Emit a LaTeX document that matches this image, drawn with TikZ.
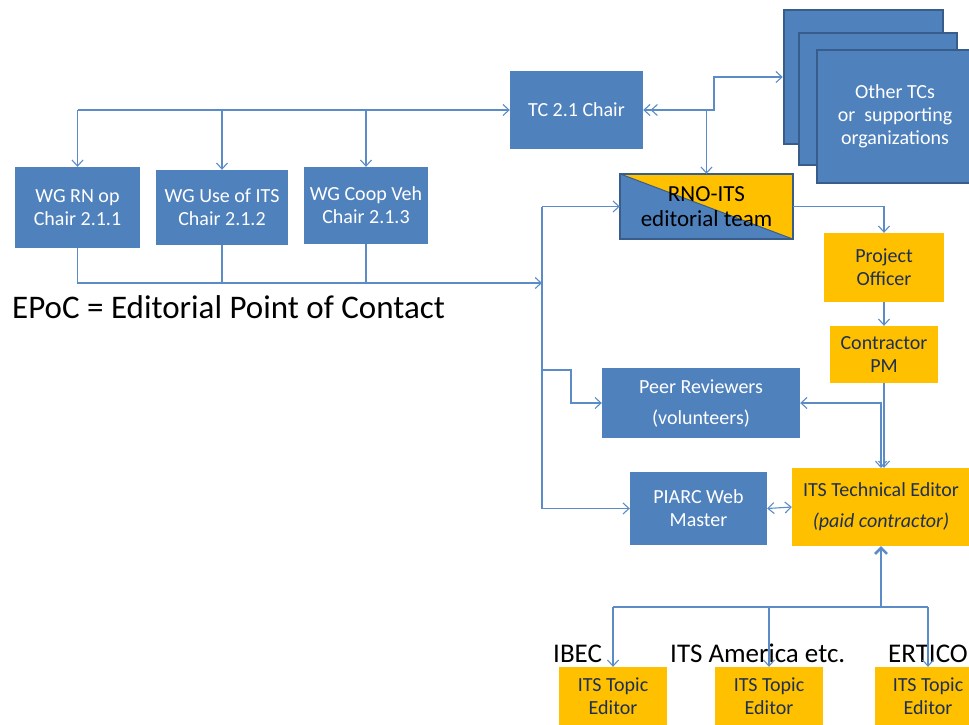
\documentclass[tikz,border=0pt]{standalone}
\usepackage{fontspec}
\setmainfont{Carlito}
\usetikzlibrary{arrows.meta}
\definecolor{bfill}{HTML}{4F81BD}
\definecolor{bdark}{HTML}{385D8A}
\definecolor{yfill}{HTML}{FFC000}
\definecolor{ytext}{HTML}{1F3050}
\definecolor{lcol}{HTML}{5B8CC8}
\tikzset{
  box/.style={inner sep=0pt, align=center, font=\fontsize{20}{23}\selectfont},
  bluebox/.style={box, fill=bfill, text=white},
  yelbox/.style={box, fill=yfill, text=ytext},
  stackbox/.style={box, fill=bfill, draw=bdark, line width=2.5pt, text=white},
  conn/.style={draw=lcol, line width=1.1pt, -{Straight Barb[length=6pt,width=11pt]}},
  conn2/.style={draw=lcol, line width=1.1pt, {Straight Barb[length=6pt,width=11pt]}-{Straight Barb[length=6pt,width=11pt]}},
  line/.style={draw=lcol, line width=1.1pt},
  lbl/.style={inner sep=0pt, anchor=base west, font=\fontsize{27}{30}\selectfont, text=black},
}
\begin{document}
\begin{tikzpicture}[x=1pt,y=-1pt]
\clip (0,0) rectangle (969,724);
\fill[white] (0,0) rectangle (969,724);

% stacked boxes
\node[stackbox, minimum width=159pt, minimum height=134pt] (other1) at (863.5,77) {};
\node[stackbox, minimum width=158pt, minimum height=132pt] (other2) at (878,99) {};
\node[stackbox, minimum width=158pt, minimum height=133pt] (other3) at (896,116.5) {};
\node[box, text=white] (othertext) at (895,116.5) {Other TCs\\or\ \ supporting\\organizations};

\node[bluebox, minimum width=133pt, minimum height=78pt] (tc) at (576.5,110) {TC 2.1 Chair};
\node[bluebox, minimum width=125pt, minimum height=81pt] (wg1) at (77.5,207.5) {WG RN op\\Chair 2.1.1};
\node[bluebox, minimum width=132pt, minimum height=75pt] (wg2) at (222,207.5) {WG Use of ITS\\Chair 2.1.2};
\node[bluebox, minimum width=124pt, minimum height=77pt] (wg3) at (366,205.5) {WG Coop Veh\\Chair 2.1.3};

% RNO-ITS split box
\node[inner sep=0pt, minimum width=173pt, minimum height=65pt] (rno) at (706.5,206.5) {};
\fill[bfill] (rno.south west) rectangle (rno.north east);
\fill[yfill] (rno.north west) -- (rno.north east) -- (rno.south east) -- cycle;
\draw[bdark, line width=1pt] (rno.north west) -- (rno.south east);
\draw[bdark, line width=2.5pt] (rno.south west) rectangle (rno.north east);
\node[box, text=black, font=\fontsize{23}{25}\selectfont] (rnotext) at (rno.center) {RNO-ITS\\editorial team};

\node[yelbox, minimum width=120pt, minimum height=69pt] (po) at (884,267.5) {Project\\Officer};
\node[yelbox, minimum width=108pt, minimum height=57pt] (cpm) at (884,354.5) {Contractor\\PM};
\node[bluebox, minimum width=198pt, minimum height=70pt] (peer) at (701,403) {Peer Reviewers\\[8pt](volunteers)};
\node[bluebox, minimum width=137pt, minimum height=73pt] (piarc) at (698.5,508.5) {PIARC Web\\Master};
\node[yelbox, minimum width=178pt, minimum height=78pt] (te) at (881,507) {ITS Technical Editor\\[8pt]\itshape (paid contractor)};

\node[yelbox, minimum width=108pt, minimum height=58pt] (top1) at (613,696) {ITS Topic\\Editor};
\node[yelbox, minimum width=108pt, minimum height=58pt] (top2) at (769,696) {ITS Topic\\Editor};
\node[yelbox, minimum width=106pt, minimum height=58pt] (top3) at (928,696) {ITS Topic\\Editor};

\node[lbl] (ibec) at (553,662) {IBEC};
\node[lbl] (itsa) at (670,662) {ITS America etc.};
\node[lbl] (ertico) at (888,662) {ERTICO};
\node[lbl, font=\fontsize{33}{36}\selectfont] (epoc) at (12,318) {EPoC = Editorial Point of Contact};

% top bus from TC to WGs
\coordinate (t1) at (77.5,110);
\coordinate (t2) at (222,110);
\coordinate (t3) at (366,110);
\draw[conn] (t1) -- (tc.west);
\draw[conn] (t1) -- (wg1.north);
\draw[conn] (t2) -- (wg2.north);
\draw[conn] (t3) -- (wg3.north);

% bottom bus from WGs
\coordinate (bus) at (542,283);
\draw[conn] (wg1.south) |- (bus);
\draw[line] (wg2.south) -- (wg2.south |- bus);
\draw[line] (wg3.south) -- (wg3.south |- bus);

% vertical bus on the left of the right column
\coordinate (v1) at (542,206.5);
\coordinate (v2) at (542,370);
\coordinate (v3) at (542,508.5);
\draw[line] (v1) -- (v3);
\draw[conn] (v1) -- (rno.west);
\draw[conn] (v2) -- (571,370) |- (peer.west);
\draw[conn] (v3) -- (piarc.west);

% TC links
\coordinate (tcj) at (714,110);
\draw[line width=1.1pt, draw=lcol, {Straight Barb[length=6pt,width=11pt]Straight Barb[length=6pt,width=11pt]}-{Straight Barb[length=6pt,width=11pt]}] (tc.east) -- (tcj) |- (other1.west);
\draw[conn] (706.5,110) -- (rno.north);

% right column
\draw[conn] (rno.east) -| (po.north);
\draw[conn] (po.south) -- (cpm.north);
\draw[conn] (cpm.south) -- (cpm.south |- te.north);
\draw[conn2] (peer.east) -- (881,403) -- (881,468);
\draw[conn2] (piarc.east) -- (te.west);

% bottom distribution
\coordinate (bb) at (881,607);
\draw[draw=lcol, line width=2.5pt, -{Straight Barb[length=6pt,width=12pt]}] (bb) -- (te.south);
\draw[line] (top1.north |- bb) -- (top3.north |- bb);
\draw[conn] (top1.north |- bb) -- (top1.north);
\draw[conn] (top2.north |- bb) -- (top2.north);
\draw[conn] (top3.north |- bb) -- (top3.north);
\end{tikzpicture}
\end{document}
